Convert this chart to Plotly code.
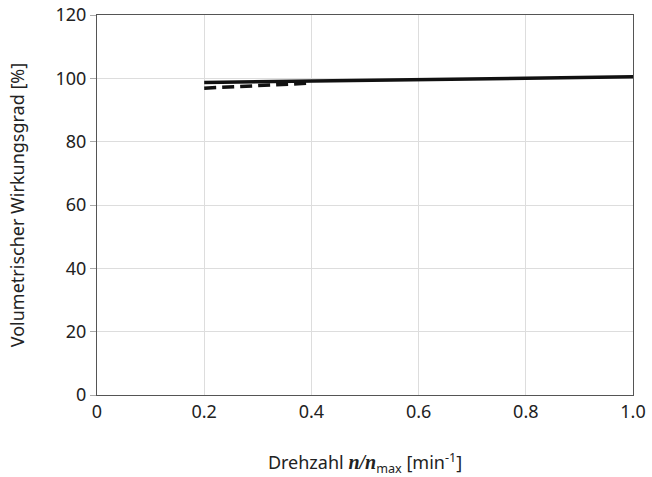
import plotly.graph_objects as go

x_solid = [0.2, 0.4, 0.6, 0.8, 1.0]
y_solid = [98.7, 99.2, 99.7, 100.1, 100.5]
x_dash = [0.2, 0.3, 0.4]
y_dash = [96.9, 97.6, 98.5]

x_ticks = [0, 0.2, 0.4, 0.6, 0.8, 1.0]
x_tick_text = ["0", "0.2", "0.4", "0.6", "0.8", "1.0"]
y_ticks = [0, 20, 40, 60, 80, 100, 120]

fig = go.Figure()
fig.add_trace(go.Scatter(x=x_dash, y=y_dash, mode="lines",
                         line=dict(color="#111111", width=3.5, dash="12px,6px")))
fig.add_trace(go.Scatter(x=x_solid, y=y_solid, mode="lines",
                         line=dict(color="#111111", width=3.5)))

font = "Noto Sans, Open Sans, sans-serif"
fig.update_layout(
    width=652, height=477,
    margin=dict(l=97, r=19, t=15, b=82),
    plot_bgcolor="white", paper_bgcolor="white",
    showlegend=False,
    font=dict(family=font, size=18, color="#222222"),
    xaxis=dict(range=[0, 1.0], tickvals=x_ticks, ticktext=x_tick_text,
               showgrid=True, gridcolor="#dddddd", gridwidth=1,
               showline=True, linecolor="#555555", linewidth=1.2, mirror=True,
               ticks="", zeroline=False, automargin=False,
               tickfont=dict(size=18),
               title=dict(text="Drehzahl <i><b><span style='font-family:Liberation Serif, serif;font-size:20px'>n/n</span></b></i><sub>max</sub> [min<sup>-1</sup>]",
                          standoff=36, font=dict(size=18))),
    yaxis=dict(range=[0, 120], tickvals=y_ticks,
               showgrid=True, gridcolor="#dddddd", gridwidth=1,
               showline=True, linecolor="#555555", linewidth=1.2, mirror=True,
               ticks="outside", ticklen=6, tickcolor="#aaaaaa", zeroline=False,
               automargin=False, tickfont=dict(size=18),
               title=dict(text="Volumetrischer Wirkungsgrad [%]", standoff=26,
                          font=dict(size=18))),
)

fig.write_html("out.html", config={"displayModeBar": False},
               post_script="document.body.style.margin='0';")
